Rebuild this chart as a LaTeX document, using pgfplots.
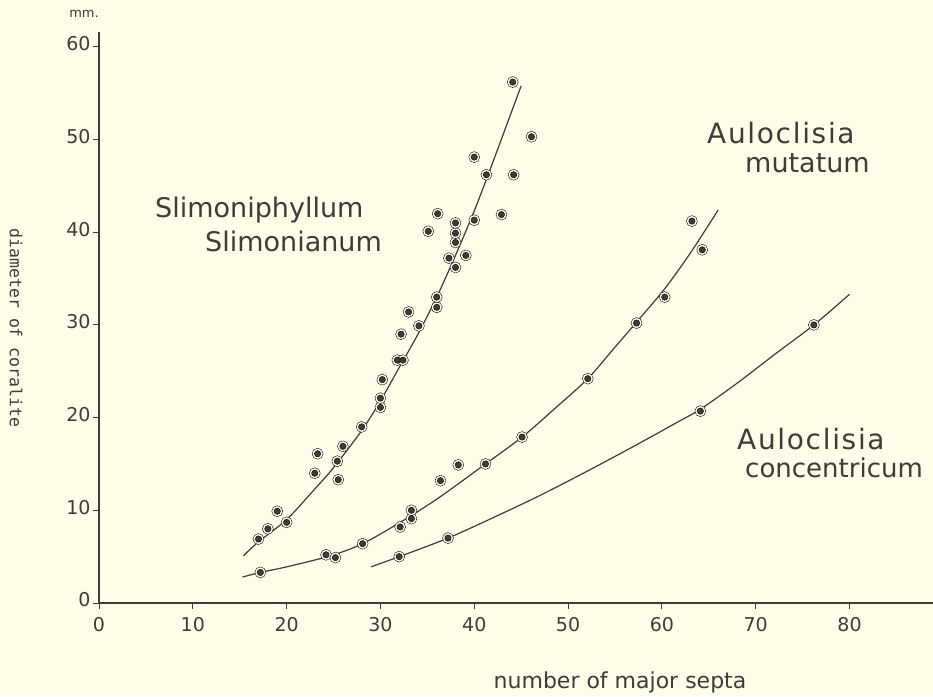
\documentclass[border=0pt]{standalone}
\usepackage{pgfplots}
\pgfplotsset{compat=1.18}
\usepackage{fontspec}
\setmainfont{DejaVu Sans}
\newfontfamily\typefont{DejaVu Sans Mono}
\definecolor{bg}{RGB}{255,253,234}
\definecolor{ink}{RGB}{62,60,54}

\pgfplotstableread{
x y
17 6.9
18 8.0
19 9.9
20 8.7
23 14.0
23.3 16.1
25.4 15.3
25.5 13.3
26 16.9
28 19.0
30 21.1
30 22.1
30.2 24.1
31.8 26.2
32.4 26.2
32.2 29.0
33 31.4
34.1 29.9
36 31.9
36 33.0
35.1 40.1
36.1 42.0
37.3 37.2
38 36.2
38 38.9
38 39.9
38 41.0
39.1 37.5
40 41.3
42.9 41.9
40 48.1
41.3 46.2
44.2 46.2
44.1 56.2
46.1 50.3
}\slimpts

\pgfplotstableread{
x y
17.2 3.3
24.2 5.2
25.2 4.9
28.1 6.4
32.1 8.2
33.3 9.1
33.3 10.0
36.4 13.2
38.3 14.9
41.2 15.0
45.1 17.9
52.1 24.2
57.3 30.2
60.3 33.0
63.2 41.2
64.3 38.1
}\mutpts

\pgfplotstableread{
x y
32 5.0
37.2 7.0
64.1 20.7
76.2 30.0
}\conpts

\pgfplotstableread{
x y
15.4 5.1
17 6.6
20 9.0
23 12.3
25 14.6
28 18.6
30 21.8
32 25.4
34 29.0
36 33.0
38 37.5
40 42.3
42 47.6
45 55.8
}\slimcurve

\pgfplotstableread{
x y
15.3 2.8
17.2 3.3
20 3.9
24.7 5.1
28.1 6.4
32.1 8.7
36 11.2
41.2 15.0
45.1 17.9
48.5 20.9
52.1 24.2
55 27.6
57.3 30.3
60.3 33.9
63 37.7
66 42.4
}\mutcurve

\pgfplotstableread{
x y
29 3.9
32 5.0
37.2 7.0
42 9.2
47 11.6
52 14.2
57 16.9
62 19.7
64.1 20.9
68 23.7
72 26.8
76.2 30.0
80 33.3
}\concurve

\begin{document}
\begin{tikzpicture}[x=1pt,y=1pt]
\fill[bg] (0,0) rectangle (933,696);
\useasboundingbox (0,0) rectangle (933,696);
\begin{axis}[
  at={(99pt,93pt)}, anchor=south west,
  width=834pt, height=571pt, scale only axis,
  xmin=0, xmax=88.9, ymin=0, ymax=61.6,
  axis x line=bottom, axis y line=left,
  axis line style={-, ink, line width=1.4pt},
  xtick={0,10,...,80}, ytick={0,10,...,60},
  tick align=outside, major tick length=6pt,
  tick style={ink, line width=1pt},
  /pgf/number format/assume math mode=true,
  tick label style={font=\fontsize{19}{19}\selectfont, text=ink},
  yticklabel style={font=\fontsize{19}{19}\selectfont, yshift=3pt, xshift=1pt},
  xticklabel style={font=\fontsize{19}{19}\selectfont, yshift=-5pt},
  clip=false,
]
\addplot[ink, line width=1.2pt, smooth] table {\slimcurve};
\addplot[ink, line width=1.2pt, smooth] table {\mutcurve};
\addplot[ink, line width=1.2pt, smooth] table {\concurve};
% halos (gaps in the curves around the dots)
\addplot[only marks, mark=*, mark size=5.5pt, mark options={fill=bg, draw=none}] table {\slimpts};
\addplot[only marks, mark=*, mark size=5.5pt, mark options={fill=bg, draw=none}] table {\mutpts};
\addplot[only marks, mark=*, mark size=5.5pt, mark options={fill=bg, draw=none}] table {\conpts};
% dots
\addplot[only marks, mark=*, mark size=3.2pt, mark options={fill=ink, draw=none}] table {\slimpts};
\addplot[only marks, mark=*, mark size=3.2pt, mark options={fill=ink, draw=none}] table {\mutpts};
\addplot[only marks, mark=*, mark size=3.2pt, mark options={fill=ink, draw=none}] table {\conpts};
\end{axis}
\begin{scope}[every node/.style={text=ink, inner sep=0pt}]
\node[anchor=west] at (155,486) {\fontsize{27}{27}\selectfont Slimoniphyllum};
\node[anchor=west] at (205,455) {\fontsize{27}{27}\selectfont Slimonianum};
\node[anchor=west] at (707,563) {\fontsize{28}{28}\selectfont\addfontfeature{LetterSpace=6}Auloclisia};
\node[anchor=west] at (745,533) {\fontsize{27}{27}\selectfont mutatum};
\node[anchor=west] at (737,257) {\fontsize{28}{28}\selectfont\addfontfeature{LetterSpace=6}Auloclisia};
\node[anchor=west] at (745,228) {\fontsize{26}{26}\selectfont concentricum};
\node[anchor=center] at (620,14) {\fontsize{22}{22}\selectfont number of major septa};
\node[anchor=center, rotate=-90] at (16,368) {\typefont\fontsize{16.5}{16.5}\selectfont diameter of coralite};
\node[anchor=center] at (84,682) {\fontsize{13}{13}\selectfont mm.};
\end{scope}
\end{tikzpicture}
\end{document}
